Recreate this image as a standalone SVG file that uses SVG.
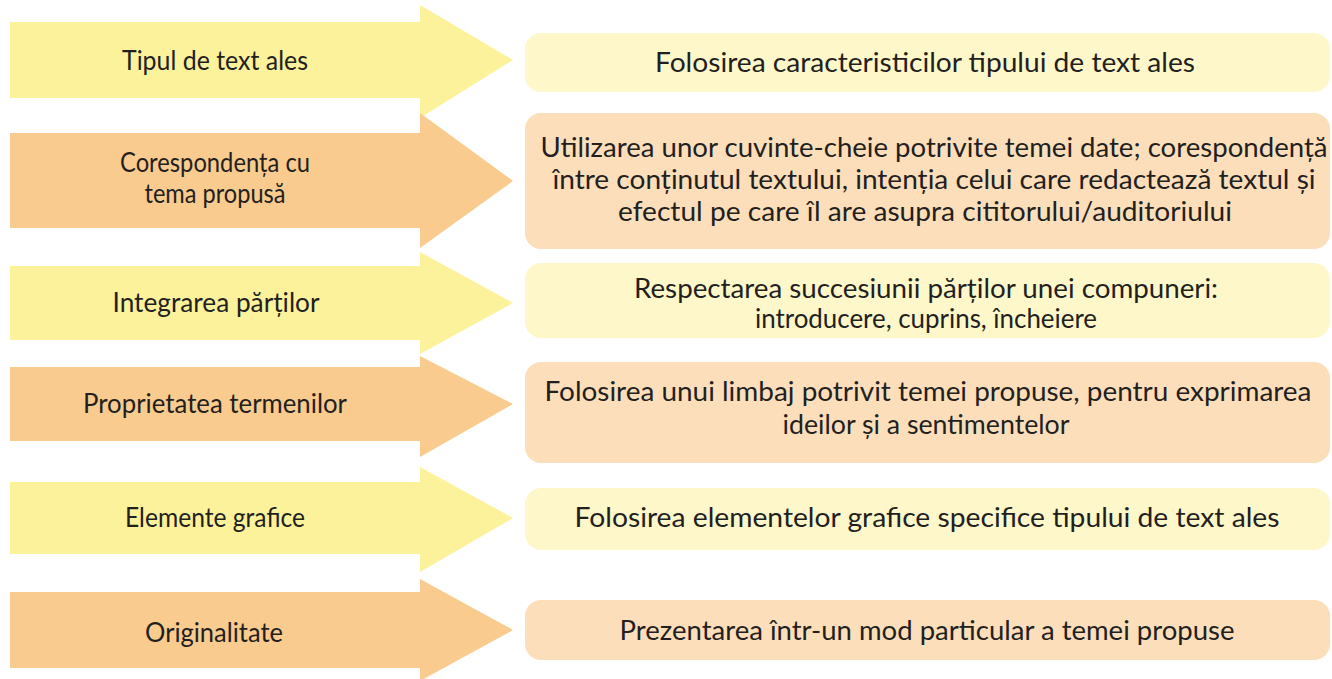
<svg xmlns="http://www.w3.org/2000/svg" width="1332" height="679" viewBox="0 0 1332 679">
<style>
.ay{fill:#FCF29C}
.ao{fill:#F9CB8E}
.by{fill:#FEF7CA}
.bo{fill:#FCDEBB}
text{font-family:Lato,"Open Sans","Noto Sans",sans-serif;font-size:26px;fill:#231F20;text-anchor:middle}
</style>
<rect width="1332" height="679" fill="#FFFFFF"/>
<g id="arrow1"><polygon class="ay" points="10,22 420,22 420,5 513,60 420,118 420,98 10,98"/><text x="215" y="70" textLength="186" lengthAdjust="spacingAndGlyphs">Tipul de text ales</text></g>
<g id="arrow2"><polygon class="ao" points="10,133 420,133 420,113 513,181 420,248 420,228 10,228"/><text x="215" y="172" textLength="190" lengthAdjust="spacingAndGlyphs">Corespondența cu</text><text x="215" y="203" textLength="141" lengthAdjust="spacingAndGlyphs">tema propusă</text></g>
<g id="arrow3"><polygon class="ay" points="10,266 420,266 420,252 513,303 420,354 420,340 10,340"/><text x="216" y="312" textLength="207" lengthAdjust="spacingAndGlyphs">Integrarea părților</text></g>
<g id="arrow4"><polygon class="ao" points="10,367 420,367 420,356 513,404 420,457 420,441 10,441"/><text x="215" y="413" textLength="264" lengthAdjust="spacingAndGlyphs">Proprietatea termenilor</text></g>
<g id="arrow5"><polygon class="ay" points="10,482 420,482 420,467 513,518 420,572 420,554 10,554"/><text x="215" y="527" textLength="180" lengthAdjust="spacingAndGlyphs">Elemente grafice</text></g>
<g id="arrow6"><polygon class="ao" points="10,592 420,592 420,579 513,630 420,681 420,668 10,668"/><text x="214" y="642" textLength="138" lengthAdjust="spacingAndGlyphs">Originalitate</text></g>
<g id="box1"><rect class="by" x="525" y="33" width="805" height="59" rx="16"/><text x="925" y="72" textLength="540" lengthAdjust="spacingAndGlyphs">Folosirea caracteristicilor tipului de text ales</text></g>
<g id="box2"><rect class="bo" x="525" y="113" width="805" height="136" rx="16"/><text x="934" y="157" textLength="787" lengthAdjust="spacingAndGlyphs">Utilizarea unor cuvinte-cheie potrivite temei date; corespondență</text><text x="934" y="189" textLength="763" lengthAdjust="spacingAndGlyphs">între conținutul textului, intenția celui care redactează textul și</text><text x="925" y="221" textLength="614" lengthAdjust="spacingAndGlyphs">efectul pe care îl are asupra cititorului/auditoriului</text></g>
<g id="box3"><rect class="by" x="525" y="263" width="805" height="75" rx="16"/><text x="926" y="298" textLength="584" lengthAdjust="spacingAndGlyphs">Respectarea succesiunii părților unei compuneri:</text><text x="926" y="328" textLength="342" lengthAdjust="spacingAndGlyphs">introducere, cuprins, încheiere</text></g>
<g id="box4"><rect class="bo" x="525" y="362" width="805" height="101" rx="16"/><text x="928" y="401" textLength="767" lengthAdjust="spacingAndGlyphs">Folosirea unui limbaj potrivit temei propuse, pentru exprimarea</text><text x="926" y="434" textLength="287" lengthAdjust="spacingAndGlyphs">ideilor și a sentimentelor</text></g>
<g id="box5"><rect class="by" x="525" y="488" width="805" height="62" rx="16"/><text x="927" y="527" textLength="705" lengthAdjust="spacingAndGlyphs">Folosirea elementelor grafice specifice tipului de text ales</text></g>
<g id="box6"><rect class="bo" x="525" y="600" width="805" height="60" rx="16"/><text x="927" y="640" textLength="615" lengthAdjust="spacingAndGlyphs">Prezentarea într-un mod particular a temei propuse</text></g>
<g id="connectors"></g>
</svg>
